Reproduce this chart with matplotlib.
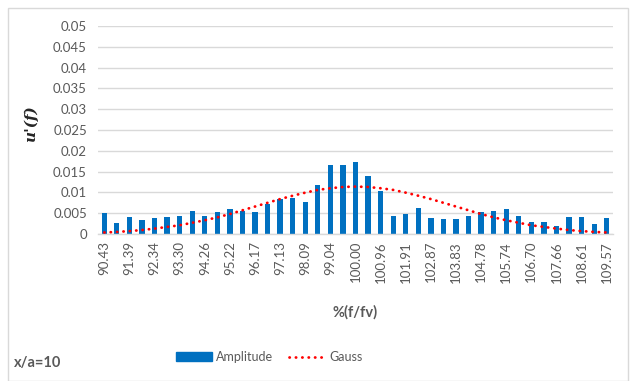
import matplotlib
matplotlib.use("Agg")
import matplotlib.pyplot as plt
from matplotlib.patches import Rectangle
from matplotlib.lines import Line2D
import numpy as np

# frequency ratio categories, % of f/fv
freq = ["90.43", "90.91", "91.39", "91.87", "92.34", "92.82", "93.30", "93.78",
        "94.26", "94.74", "95.22", "95.69", "96.17", "96.65", "97.13", "97.61",
        "98.09", "98.56", "99.04", "99.52", "100.00", "100.48", "100.96", "101.44",
        "101.91", "102.39", "102.87", "103.35", "103.83", "104.31", "104.78",
        "105.26", "105.74", "106.22", "106.70", "107.18", "107.66", "108.13",
        "108.61", "109.09", "109.57"]

amplitude = [0.0051, 0.0027, 0.0041, 0.0033, 0.0039, 0.0041, 0.0044, 0.0056,
             0.0043, 0.0053, 0.0059, 0.0056, 0.0053, 0.0072, 0.0085, 0.0087,
             0.0076, 0.0118, 0.0165, 0.0167, 0.0174, 0.0140, 0.0103, 0.0044,
             0.0049, 0.0063, 0.0039, 0.0036, 0.0036, 0.0044, 0.0053, 0.0056,
             0.0061, 0.0043, 0.0029, 0.0029, 0.0020, 0.0041, 0.0041, 0.0023,
             0.0039]

gauss = [0.00037, 0.0005, 0.0007, 0.00095, 0.0013, 0.0017, 0.0021, 0.0027,
         0.0033, 0.0040, 0.0048, 0.0057, 0.0066, 0.0075, 0.0084, 0.0092,
         0.00994, 0.0106, 0.0110, 0.0113, 0.0114, 0.0113, 0.0110, 0.0106,
         0.00994, 0.0092, 0.0084, 0.0075, 0.0066, 0.0057, 0.0048, 0.0040,
         0.0033, 0.0027, 0.0021, 0.0017, 0.0013, 0.00095, 0.0007, 0.0005,
         0.00037]

yticks = [0, 0.005, 0.01, 0.015, 0.02, 0.025, 0.03, 0.035, 0.04, 0.045, 0.05]
ytick_labels = ["0", "0.005", "0.01", "0.015", "0.02", "0.025", "0.03",
                "0.035", "0.04", "0.045", "0.05"]

GRAY = "#595959"
BLUE = "#0070C0"
plt.rcParams["font.family"] = ["Lato", "DejaVu Sans"]

fig = plt.figure(figsize=(6.31, 3.81), dpi=100)
fig.patch.set_facecolor("white")
fig.add_artist(Rectangle((8 / 631, 0.0), 620 / 631, 1 - 8 / 381,
                         transform=fig.transFigure, fill=False,
                         edgecolor="#D9D9D9", linewidth=1.0))

ax = fig.add_axes([98 / 631, 1 - 234 / 381, 515 / 631, 208 / 381])
x = np.arange(len(freq))
ax.bar(x, amplitude, width=0.42, color=BLUE, zorder=2)
ax.plot(x, gauss, color="#FF0000", linewidth=2.0,
        linestyle=(0, (0.1, 2.2)), dash_capstyle="round", zorder=3)

ax.set_xlim(-0.5, len(freq) - 0.5)
ax.set_ylim(0, 0.05)
ax.set_yticks(yticks)
ax.set_yticklabels(ytick_labels)
ax.set_xticks(x[::2])
ax.set_xticklabels(freq[::2], rotation=90)
ax.tick_params(axis="both", length=0, colors=GRAY, labelsize=9.5)
ax.tick_params(axis="y", pad=8)
ax.tick_params(axis="x", pad=5)
ax.grid(axis="y", color="#D9D9D9", linewidth=1.0, zorder=0)
for side in ["top", "right", "left"]:
    ax.spines[side].set_visible(False)
ax.spines["bottom"].set_color("#D9D9D9")
ax.spines["bottom"].set_linewidth(1.0)

fig.text(31 / 631, 1 - 124 / 381, "u'(f)", rotation=90, ha="center",
         va="center", family="DejaVu Serif", style="italic", weight="bold",
         fontsize=11, color="#262626")
fig.text(355 / 631, 1 - 312 / 381, "%(f/fv)", ha="center", va="center",
         weight="bold", fontsize=10.5, color=GRAY)
fig.text(14 / 631, 1 - 363 / 381, "x/a=10", ha="left", va="center",
         weight="bold", fontsize=10.5, color=GRAY)

handles = [Rectangle((0, 0), 1, 1, color=BLUE),
           Line2D([], [], color="#FF0000", linewidth=2.0,
                  linestyle=(0, (0.1, 2.2)), dash_capstyle="round")]
leg = fig.legend(handles, ["Amplitude", "Gauss"], loc="center",
                 bbox_to_anchor=(269 / 631, 1 - 357 / 381), ncol=2,
                 frameon=False, fontsize=9, handlelength=2.9,
                 handleheight=0.7, columnspacing=1.3, handletextpad=0.3,
                 borderpad=0.0)
for t in leg.get_texts():
    t.set_color(GRAY)

fig.savefig("out.png", dpi=100, facecolor="white")
